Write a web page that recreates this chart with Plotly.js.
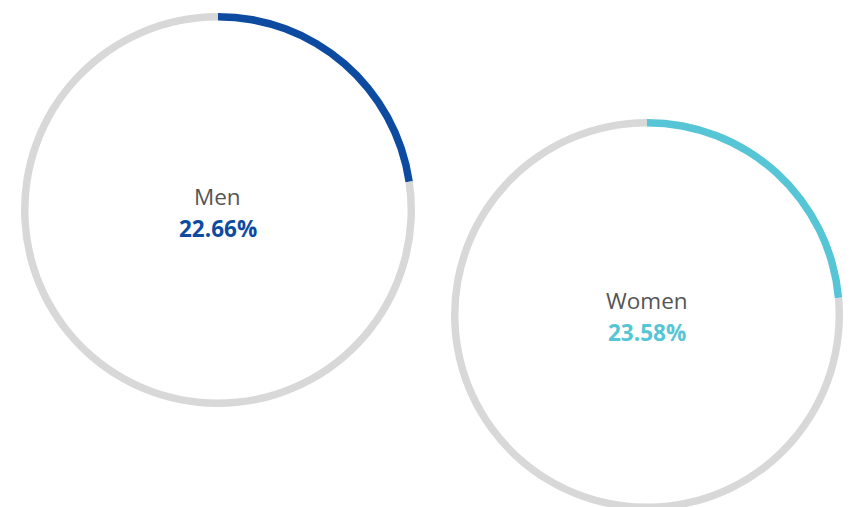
<!DOCTYPE html>
<html>
<head>
<meta charset="utf-8">
<script src="https://cdn.plot.ly/plotly-3.0.1.min.js"></script>
<style>
html,body{margin:0;padding:0;overflow:hidden;background:#fff;}
#chart{width:852px;height:530px;}
</style>
</head>
<body>
<div id="chart"></div>
<script>
var categories = ['Men', 'Women'];
var shares = [22.66, 23.58];
var colors = ['#0D4BA0', '#56C5D6'];
var restColor = '#D8D8D8';

var W = 852, H = 530;
// pixel boxes for each ring: [left, right, top, bottom]
var boxes = [[21, 415, 13, 407], [451, 843, 119, 511]];
var labelY = [[196, 228], [300, 332]];

var traces = [];
var annotations = [];
for (var i = 0; i < categories.length; i++) {
  var b = boxes[i];
  traces.push({
    type: 'pie',
    values: [shares[i], 100 - shares[i]],
    labels: [categories[i], 'Other'],
    marker: {colors: [colors[i], restColor], line: {width: 0}},
    hole: 0.962,
    sort: false,
    direction: 'clockwise',
    rotation: 0,
    textinfo: 'none',
    hoverinfo: 'skip',
    showlegend: false,
    domain: {x: [b[0] / W, b[1] / W], y: [(H - b[3]) / H, (H - b[2]) / H]}
  });
  var cx = (b[0] + b[1]) / 2 / W;
  annotations.push({
    x: cx, y: (H - labelY[i][0]) / H, xref: 'paper', yref: 'paper',
    text: categories[i], showarrow: false, xanchor: 'center', yanchor: 'middle',
    font: {family: 'Open Sans', size: 22.5, color: '#555555'}
  });
  annotations.push({
    x: cx, y: (H - labelY[i][1]) / H, xref: 'paper', yref: 'paper',
    text: '<b>' + shares[i].toFixed(2) + '%</b>', showarrow: false, xanchor: 'center', yanchor: 'middle',
    font: {family: 'Open Sans', size: 22.5, color: colors[i]}
  });
}

Plotly.newPlot('chart', traces, {
  width: W, height: H,
  margin: {l: 0, r: 0, t: 0, b: 0},
  paper_bgcolor: '#ffffff',
  annotations: annotations
}, {staticPlot: true, displayModeBar: false});
</script>
</body>
</html>
